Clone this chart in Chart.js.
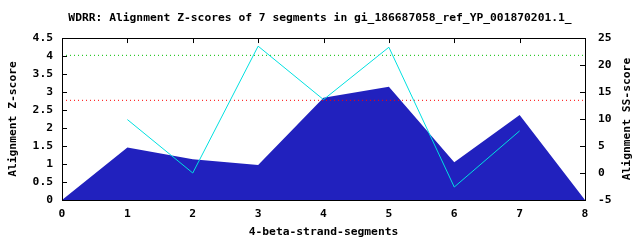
<!DOCTYPE html>
<html>
<head>
<meta charset="utf-8">
<script src="https://cdn.jsdelivr.net/npm/chart.js@4/dist/chart.umd.min.js"></script>
<style>
  html, body { margin: 0; padding: 0; background: #fff; }
  #wrap { width: 640px; height: 240px; }
</style>
</head>
<body>
<div id="wrap"><canvas id="myChart"></canvas></div>
<script>
const segments = [0, 1, 2, 3, 4, 5, 6, 7, 8];
const zScores = [0, 1.46, 1.13, 0.97, 2.84, 3.15, 1.05, 2.36, 0];
const ssSegments = [1, 2, 3, 4, 5, 6, 7];
const ssScores = [9.9, 0, 23.5, 13.6, 23.3, -2.6, 7.8];
const cutGreen = 4.02;
const cutRed = 2.77;
const rightTitle = 'Alignment SS-score';

const monoFont = { family: '"DejaVu Sans Mono", monospace', size: 11.3, weight: 'bold' };

// gnuplot style: inward ticks, a closed box, right title read bottom-up
const boxTicks = {
  id: 'boxTicks',
  afterDatasetsDraw(chart) {
    const { ctx, chartArea: a, scales } = chart;
    const len = 5;
    ctx.save();
    ctx.strokeStyle = '#000';
    ctx.lineWidth = 1;
    ctx.beginPath();
    scales.x.ticks.forEach(t => {
      const px = Math.round(scales.x.getPixelForValue(t.value)) + 0.5;
      ctx.moveTo(px, a.top);
      ctx.lineTo(px, a.top + len);
    });
    scales.y.ticks.forEach(t => {
      const py = Math.round(scales.y.getPixelForValue(t.value)) + 0.5;
      ctx.moveTo(a.left, py);
      ctx.lineTo(a.left + len, py);
    });
    scales.y2.ticks.forEach(t => {
      const py = Math.round(scales.y2.getPixelForValue(t.value)) + 0.5;
      ctx.moveTo(a.right, py);
      ctx.lineTo(a.right - len, py);
    });
    ctx.stroke();
    ctx.strokeRect(Math.round(a.left) + 0.5, Math.round(a.top) + 0.5,
      Math.round(a.right - a.left), Math.round(a.bottom - a.top));

    const s = scales.y2;
    ctx.translate(s.right - 13.3, (a.top + a.bottom) / 2);
    ctx.rotate(-Math.PI / 2);
    ctx.font = 'bold 11.3px "DejaVu Sans Mono", monospace';
    ctx.fillStyle = '#000';
    ctx.textAlign = 'center';
    ctx.textBaseline = 'middle';
    ctx.fillText(rightTitle, 0, 0);
    ctx.restore();
  }
};

const hline = (v) => [{ x: segments[0], y: v }, { x: segments[segments.length - 1], y: v }];

const data = {
  datasets: [
    {
      label: 'Z-score',
      data: segments.map((x, i) => ({ x: x, y: zScores[i] })),
      backgroundColor: '#2121be',
      borderWidth: 0,
      pointRadius: 0,
      fill: 'origin',
      yAxisID: 'y',
      order: 3
    },
    {
      label: 'SS-score',
      data: ssSegments.map((x, i) => ({ x: x, y: ssScores[i] })),
      borderColor: '#00e0e0',
      borderWidth: 1,
      pointRadius: 0,
      fill: false,
      yAxisID: 'y2',
      order: 1
    },
    {
      label: 'cut1',
      data: hline(cutGreen),
      borderColor: '#00c000',
      borderWidth: 1,
      borderDash: [1, 3],
      pointRadius: 0,
      fill: false,
      yAxisID: 'y',
      order: 2
    },
    {
      label: 'cut2',
      data: hline(cutRed),
      borderColor: '#ff0000',
      borderWidth: 1,
      borderDash: [1, 3],
      pointRadius: 0,
      fill: false,
      yAxisID: 'y',
      order: 2
    }
  ]
};

const plainNum = (v) => String(v);

const config = {
  type: 'line',
  data: data,
  plugins: [boxTicks],
  options: {
    responsive: true,
    maintainAspectRatio: false,
    animation: false,
    layout: { padding: 0 },
    plugins: {
      legend: { display: false },
      tooltip: { enabled: false },
      title: {
        display: true,
        text: 'WDRR: Alignment Z-scores of 7 segments in gi_186687058_ref_YP_001870201.1_',
        color: '#000',
        font: monoFont,
        padding: { top: 11, bottom: 13.5 }
      }
    },
    scales: {
      x: {
        type: 'linear',
        min: 0,
        max: 8,
        afterFit: (s) => { s.height = 40; },
        ticks: { stepSize: 1, color: '#000', font: monoFont, padding: 7, maxRotation: 0, callback: plainNum },
        grid: { drawOnChartArea: false, drawTicks: false },
        border: { display: false },
        title: {
          display: true,
          text: '4-beta-strand-segments',
          color: '#000',
          font: monoFont,
          padding: { top: 0, bottom: 1.2 }
        }
      },
      y: {
        position: 'left',
        min: 0,
        max: 4.5,
        afterFit: (s) => { s.width = 62; },
        ticks: { stepSize: 0.5, color: '#000', font: monoFont, padding: 9, callback: plainNum },
        grid: { drawOnChartArea: false, drawTicks: false },
        border: { display: false },
        title: {
          display: true,
          text: 'Alignment Z-score',
          color: '#000',
          font: monoFont,
          padding: { top: 6.5, bottom: 0 }
        }
      },
      y2: {
        position: 'right',
        min: -5,
        max: 25,
        afterFit: (s) => { s.width = 55; },
        ticks: { stepSize: 5, color: '#000', font: monoFont, padding: 13, callback: plainNum },
        grid: { drawOnChartArea: false, drawTicks: false },
        border: { display: false }
      }
    }
  }
};

const myChart = new Chart(document.getElementById('myChart'), config);
</script>
</body>
</html>
